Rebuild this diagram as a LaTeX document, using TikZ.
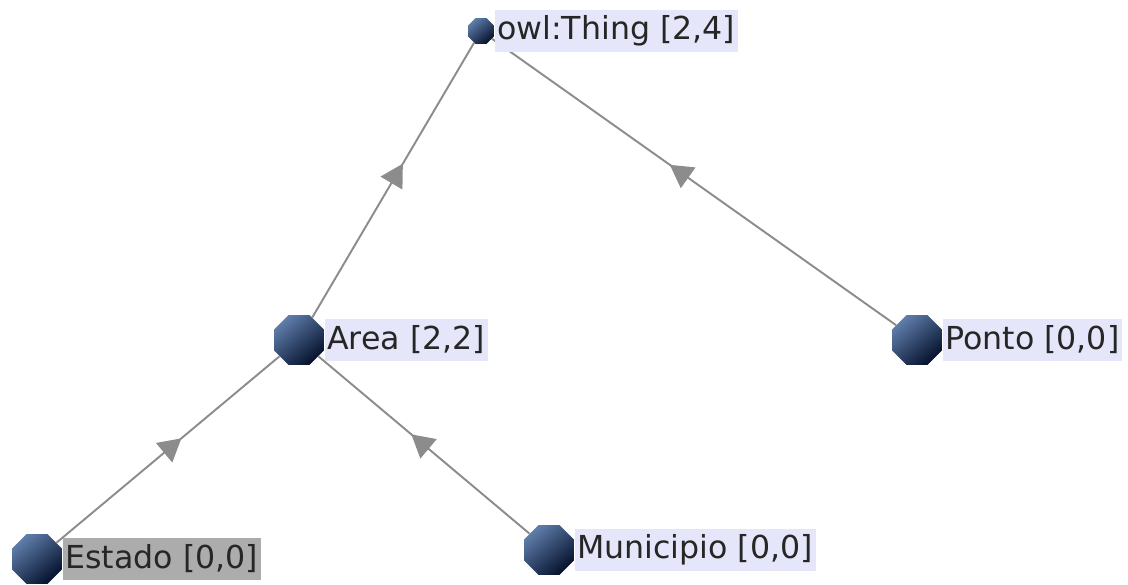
\documentclass[tikz,border=0pt]{standalone}
\usepackage{fontspec}
\setmainfont{DejaVu Sans}
\usetikzlibrary{positioning,shapes.geometric,arrows.meta,decorations.markings}

\definecolor{classlight}{RGB}{95,125,170}
\definecolor{classblue}{RGB}{22,58,112}
\definecolor{classdark}{RGB}{5,18,45}
\definecolor{tagfill}{RGB}{230,230,250}
\definecolor{selfill}{RGB}{172,172,172}
\definecolor{edgegray}{RGB}{140,140,140}

\begin{document}
\begin{tikzpicture}[
    cls/.style={regular polygon, regular polygon sides=8, minimum size=1.08cm, inner sep=0pt,
        top color=classlight, middle color=classblue, bottom color=classdark, shading angle=40},
    tag/.style={fill=tagfill, font=\fontsize{18}{20}\selectfont, text=black!85, inner sep=1.5pt, minimum height=0.84cm, right=0pt of #1},
    isa/.style={draw=edgegray, line width=1.1pt, postaction={decorate},
        decoration={markings, mark=at position 0.56 with {\arrow[edgegray]{Triangle[length=0.45cm, width=0.5cm]}}}}
  ]
    \useasboundingbox (0,0) rectangle (22.56,11.68);

    % classes
    \node[cls, minimum size=0.56cm] (thing) at (9.62,11.06) {};
    \node[cls] (area) at (5.98,4.88) {};
    \node[cls] (ponto) at (18.34,4.88) {};
    \node[cls] (estado) at (0.74,0.5) {};
    \node[cls] (municipio) at (10.98,0.68) {};

    % subclass links
    \draw[isa] (area) -- (thing);
    \draw[isa] (ponto) -- (thing);
    \draw[isa] (estado) -- (area);
    \draw[isa] (municipio) -- (area);

    % names
    \node[tag=thing] (thinglabel) {owl:Thing [2,4]};
    \node[tag=area] (arealabel) {Area [2,2]};
    \node[tag=ponto] (pontolabel) {Ponto [0,0]};
    \node[tag=estado, fill=selfill] (estadolabel) {Estado [0,0]};
    \node[tag=municipio] (municipiolabel) {Municipio [0,0]};
\end{tikzpicture}
\end{document}
